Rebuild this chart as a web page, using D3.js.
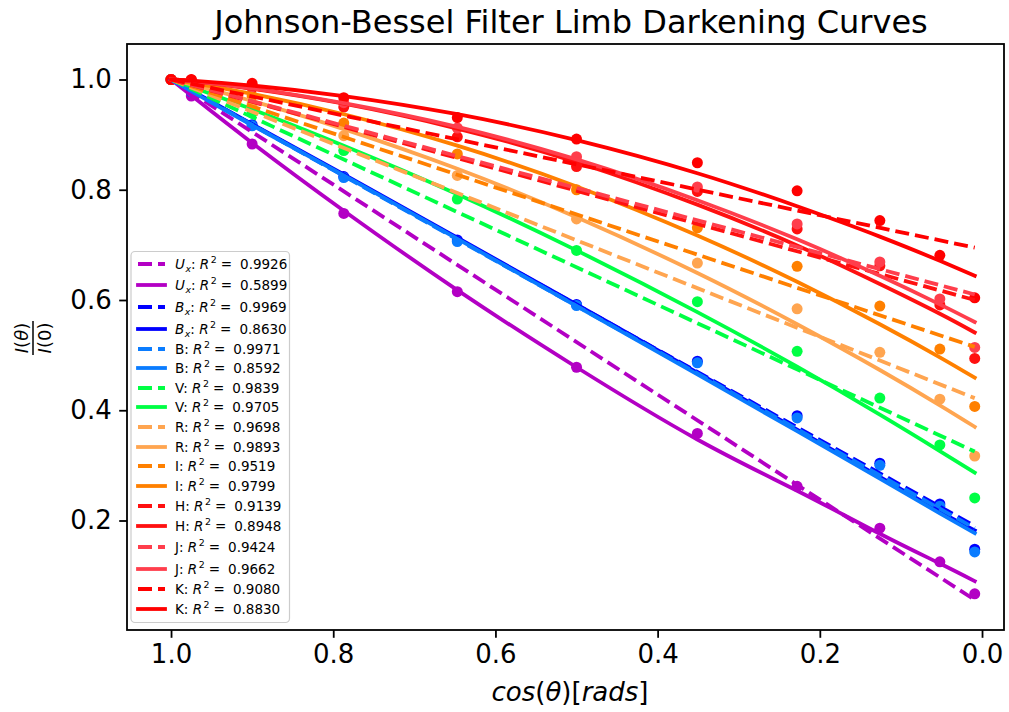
<!DOCTYPE html>
<html><head><meta charset="utf-8">
<script src="https://cdn.jsdelivr.net/npm/d3@7"></script>
<style>body{margin:0;background:#fff}svg{display:block}text{font-family:"DejaVu Sans",sans-serif}</style>
</head><body><svg id="c" width="1009" height="712"></svg>
<script>
// ---- data ----
const mu = [1.0, 0.975, 0.900, 0.787, 0.647, 0.500, 0.351, 0.228, 0.126, 0.052, 0.009];
const bands = ["U_x", "B_x", "B", "V", "R", "I", "H", "J", "K"];
const r2Linear = ["0.9926", "0.9969", "0.9971", "0.9839", "0.9698", "0.9519", "0.9139", "0.9424", "0.9080"];
const r2Quad   = ["0.5899", "0.8630", "0.8592", "0.9705", "0.9893", "0.9799", "0.8948", "0.9662", "0.8830"];
// observed intensities at each mu
const obsUx = [1, 0.970, 0.883, 0.757, 0.615, 0.478, 0.358, 0.262, 0.186, 0.125, 0.067];
const obsBx = [1, 0.978, 0.918, 0.824, 0.709, 0.592, 0.489, 0.390, 0.304, 0.230, 0.148];
const obsB  = [1, 0.978, 0.916, 0.822, 0.706, 0.590, 0.486, 0.386, 0.300, 0.226, 0.143];
const obsV  = [1, 0.990, 0.939, 0.871, 0.783, 0.690, 0.597, 0.507, 0.422, 0.337, 0.241];
const obsR  = [1, 0.995, 0.955, 0.898, 0.826, 0.747, 0.667, 0.584, 0.505, 0.420, 0.317];
const obsI  = [1, 0.997, 0.970, 0.921, 0.865, 0.800, 0.731, 0.661, 0.589, 0.511, 0.407];
const obsH  = [1, 0.999, 0.985, 0.950, 0.896, 0.842, 0.797, 0.729, 0.662, 0.591, 0.494];
const obsJ  = [1, 0.999, 0.987, 0.958, 0.912, 0.860, 0.805, 0.738, 0.669, 0.602, 0.514];
const obsK  = [1, 1.000, 0.993, 0.967, 0.931, 0.892, 0.849, 0.798, 0.744, 0.681, 0.604];
// linear-law fit (dashed): value at first and last mu
const linUx = [1, 0.056];
const linBx = [1, 0.190];
const linB  = [1, 0.186];
const linV  = [1, 0.325];
const linR  = [1, 0.422];
const linI  = [1, 0.515];
const linH  = [1, 0.600];
const linJ  = [1, 0.610];
const linK  = [1, 0.695];
// quadratic-law fit (solid): values at each mu
const quadUx = [1, 0.971, 0.885, 0.762, 0.618, 0.478, 0.347, 0.254, 0.176, 0.122, 0.090];
const quadBx = [1, 0.980, 0.919, 0.828, 0.713, 0.592, 0.468, 0.365, 0.279, 0.216, 0.182];
const quadB  = [1, 0.979, 0.917, 0.826, 0.711, 0.589, 0.465, 0.362, 0.276, 0.213, 0.177];
const quadV  = [1, 0.987, 0.946, 0.880, 0.792, 0.690, 0.578, 0.479, 0.392, 0.326, 0.287];
const quadR  = [1, 0.991, 0.961, 0.910, 0.838, 0.750, 0.649, 0.556, 0.473, 0.409, 0.370];
const quadI  = [1, 0.994, 0.974, 0.937, 0.880, 0.806, 0.717, 0.633, 0.556, 0.496, 0.459];
const quadH  = [1, 0.997, 0.983, 0.956, 0.911, 0.850, 0.773, 0.699, 0.629, 0.575, 0.541];
const quadJ  = [1, 0.997, 0.984, 0.957, 0.914, 0.855, 0.781, 0.710, 0.644, 0.592, 0.560];
const quadK  = [1, 0.998, 0.989, 0.970, 0.937, 0.890, 0.830, 0.770, 0.715, 0.671, 0.644];
const xTicks = [1.0, 0.8, 0.6, 0.4, 0.2, 0.0];
const yTicks = [0.2, 0.4, 0.6, 0.8, 1.0];

// ---- styles / layout ----
const colors = ["#b300c4", "#0000ff", "#0a7cff", "#00ff44", "#ffa550", "#ff8000", "#ff1010", "#ff3e4c", "#ff0000"];
const obsAll = [obsUx, obsBx, obsB, obsV, obsR, obsI, obsH, obsJ, obsK];
const linAll = [linUx, linBx, linB, linV, linR, linI, linH, linJ, linK];
const quadAll = [quadUx, quadBx, quadB, quadV, quadR, quadI, quadH, quadJ, quadK];
const legendRowY = [264, 285, 307, 329, 349, 368, 388, 407, 427, 447, 466, 486, 506, 526, 547, 569, 589, 609];

const L = 127, R = 1004, T = 44, B = 630;
const LW = 3.8, DASH = "14,6";
const svg = d3.select("#c");
const x = d3.scaleLinear().domain([1.0543, -0.0271]).range([L, R]);
const y = d3.scaleLinear().domain([0.00136, 1.0644]).range([B, T]);

const plot = svg.append("g");
plot.append("clipPath").attr("id", "clip").append("rect").attr("x", L).attr("y", T).attr("width", R - L).attr("height", B - T);
const inner = plot.append("g").attr("clip-path", "url(#clip)");

// dots first (below lines)
bands.forEach((b, i) => {
  inner.append("g").selectAll("circle").data(obsAll[i]).join("circle")
    .attr("cx", (d, k) => x(mu[k])).attr("cy", d => y(d)).attr("r", 5.5)
    .attr("fill", colors[i]);
});
const line = d3.line().x(d => x(d[0])).y(d => y(d[1]));
const curve = d3.line().x(d => x(d[0])).y(d => y(d[1])).curve(d3.curveNatural);
bands.forEach((b, i) => {
  const lin = [[mu[0], linAll[i][0]], [mu[mu.length - 1], linAll[i][1]]];
  inner.append("path").attr("d", line(lin)).attr("fill", "none").attr("stroke", colors[i])
    .attr("stroke-width", LW).attr("stroke-dasharray", DASH);
  const q = quadAll[i].map((v, k) => [mu[k], v]);
  inner.append("path").attr("d", curve(q)).attr("fill", "none").attr("stroke", colors[i])
    .attr("stroke-width", LW).attr("stroke-linecap", "square");
});

// axes
const TS = 7.8, FS = 26;
const gx = svg.append("g").attr("transform", `translate(0,${B})`)
  .call(d3.axisBottom(x).tickValues(xTicks).tickFormat(d3.format(".1f")).tickSize(TS).tickPadding(7));
const gy = svg.append("g").attr("transform", `translate(${L},0)`)
  .call(d3.axisLeft(y).tickValues(yTicks).tickFormat(d3.format(".1f")).tickSize(TS).tickPadding(7.5));
[gx, gy].forEach(g => {
  g.select(".domain").remove();
  g.selectAll(".tick line").attr("stroke", "#000").attr("stroke-width", 1.8);
  g.selectAll(".tick text").attr("font-size", FS).attr("fill", "#000").attr("font-family", "DejaVu Sans");
});
svg.append("rect").attr("x", L).attr("y", T).attr("width", R - L).attr("height", B - T)
  .attr("fill", "none").attr("stroke", "#000").attr("stroke-width", 1.8);

// title
svg.append("text").attr("x", 571).attr("y", 33).attr("text-anchor", "middle")
  .attr("font-size", 32).attr("fill", "#000").text("Johnson-Bessel Filter Limb Darkening Curves");

// x label
const xl = svg.append("text").attr("x", 570).attr("y", 701).attr("text-anchor", "middle")
  .attr("font-size", FS).attr("fill", "#000");
[["cos", "italic"], ["(", "normal"], ["θ", "italic"], [")", "normal"], ["[", "normal"], ["rads", "italic"], ["]", "normal"]]
  .forEach(([t, s]) => xl.append("tspan").attr("font-style", s).text(t));

// y label (fraction)
const yl = svg.append("g").attr("transform", "translate(33,338) rotate(-90)");
const num = yl.append("text").attr("x", 0).attr("y", -5).attr("text-anchor", "middle").attr("font-size", 18).attr("fill", "#000");
num.append("tspan").attr("font-style", "italic").text("I");
num.append("tspan").text("(");
num.append("tspan").attr("font-style", "italic").text("θ");
num.append("tspan").text(")");
yl.append("line").attr("x1", -17).attr("x2", 17).attr("y1", 0).attr("y2", 0).attr("stroke", "#000").attr("stroke-width", 1.5);
const den = yl.append("text").attr("x", 0).attr("y", 18).attr("text-anchor", "middle").attr("font-size", 18).attr("fill", "#000");
den.append("tspan").attr("font-style", "italic").text("I");
den.append("tspan").text("(0)");

// legend
const lg = svg.append("g");
lg.append("rect").attr("x", 131).attr("y", 251.5).attr("width", 158.5).attr("height", 371)
  .attr("rx", 4).attr("fill", "#fff").attr("fill-opacity", 0.8).attr("stroke", "#cccccc").attr("stroke-width", 1.2);
const LFS = 13.5;
bands.forEach((b, i) => {
  [0, 1].forEach(kind => {
    const ry = legendRowY[i * 2 + kind];
    const hl = lg.append("line").attr("x1", 138).attr("x2", 165).attr("y1", ry).attr("y2", ry)
      .attr("stroke", colors[i]).attr("stroke-width", LW);
    if (kind === 0) hl.attr("stroke-dasharray", DASH); else hl.attr("stroke-linecap", "square");
    const t = lg.append("text").attr("x", 175).attr("y", ry + 4.8).attr("font-size", LFS).attr("fill", "#000");
    if (b.includes("_")) {
      const [main, sub] = b.split("_");
      t.append("tspan").attr("font-style", "italic").text(main);
      t.append("tspan").attr("font-style", "italic").attr("font-size", LFS * 0.7).attr("dy", 3).attr("dx", 0.5).text(sub);
      t.append("tspan").attr("dy", -3).text(":\u00a0");
    } else {
      t.append("tspan").text(b + ":\u00a0");
    }
    t.append("tspan").attr("font-style", "italic").text("R");
    t.append("tspan").attr("font-size", LFS * 0.7).attr("dy", -5.5).attr("dx", 1.5).text("2");
    t.append("tspan").attr("dy", 5.5).attr("dx", 4).text("=");
    t.append("tspan").attr("dx", 8).text(kind === 0 ? r2Linear[i] : r2Quad[i]);
  });
});
</script></body></html>
